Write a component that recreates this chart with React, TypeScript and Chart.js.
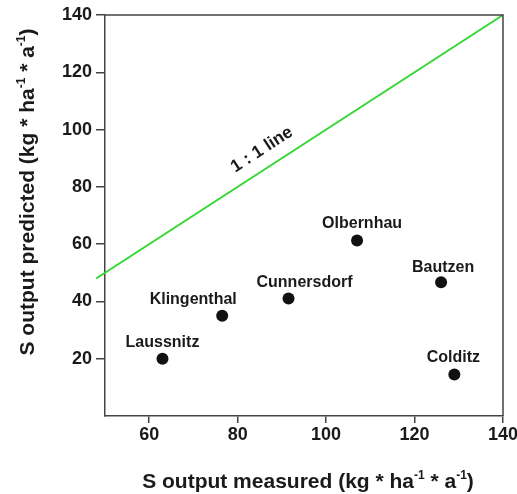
import React, { useEffect, useRef } from "react";
import { Chart, registerables } from "chart.js";

Chart.register(...registerables);

// ---- data ----
const siteNames = ["Laussnitz", "Klingenthal", "Cunnersdorf", "Olbernhau", "Bautzen", "Colditz"];
const measured = [63, 76.5, 91.5, 107, 126, 129];
const predicted = [20, 35, 41, 61.3, 46.7, 14.5];
const oneToOneX = [48, 140];
const xTickValues = [60, 80, 100, 120, 140];
const yTickValues = [20, 40, 60, 80, 100, 120, 140];
const xTitleParts = [
  { t: "S output measured (kg * ha", sup: false },
  { t: "-1", sup: true },
  { t: " * a", sup: false },
  { t: "-1", sup: true },
  { t: ")", sup: false },
];
const yTitleParts = [
  { t: "S output predicted (kg * ha", sup: false },
  { t: "-1", sup: true },
  { t: " * a", sup: false },
  { t: "-1", sup: true },
  { t: ")", sup: false },
];
const lineLabel = "1 : 1 line";

// label placement (pixel offsets relative to each point)
const labelOffsets: [number, number][] = [
  [0, -16],
  [-29, -16],
  [16, -16],
  [5, -17],
  [2, -15],
  [-1, -17],
];

const FONT = '"Liberation Sans", Arial, Helvetica, sans-serif';
const TEXT = "#1a1a1a";
const AXIS = "#444";

function drawRich(ctx: CanvasRenderingContext2D, parts: { t: string; sup: boolean }[], cx: number, cy: number, size: number, supSize: number) {
  const fMain = `bold ${size}px ${FONT}`;
  const fSup = `bold ${supSize}px ${FONT}`;
  let total = 0;
  const widths = parts.map((p) => {
    ctx.font = p.sup ? fSup : fMain;
    const w = ctx.measureText(p.t).width;
    total += w;
    return w;
  });
  let xx = cx - total / 2;
  ctx.textAlign = "left";
  ctx.textBaseline = "alphabetic";
  parts.forEach((p, i) => {
    ctx.font = p.sup ? fSup : fMain;
    ctx.fillText(p.t, xx, p.sup ? cy - size * 0.42 : cy);
    xx += widths[i];
  });
}

const annotPlugin = {
  id: "annot",
  afterDatasetsDraw(chart: any) {
    const { ctx, chartArea, scales } = chart;
    const x = scales.x;
    const y = scales.y;
    ctx.save();
    // frame top/right
    ctx.strokeStyle = AXIS;
    ctx.lineWidth = 1.5;
    ctx.beginPath();
    ctx.moveTo(chartArea.left, chartArea.top);
    ctx.lineTo(chartArea.right, chartArea.top);
    ctx.lineTo(chartArea.right, chartArea.bottom);
    ctx.stroke();

    // point labels
    ctx.fillStyle = TEXT;
    ctx.font = `bold 16px ${FONT}`;
    ctx.textAlign = "center";
    ctx.textBaseline = "middle";
    siteNames.forEach((n, i) => {
      const px = x.getPixelForValue(measured[i]);
      const py = y.getPixelForValue(predicted[i]);
      const [dx, dy] = labelOffsets[i];
      ctx.fillText(n, px + dx, py + dy);
    });

    // 1:1 line label
    const v = 87.7;
    const lx = x.getPixelForValue(v);
    const ly = y.getPixelForValue(v);
    const ang = Math.atan2(
      y.getPixelForValue(140) - y.getPixelForValue(50),
      x.getPixelForValue(140) - x.getPixelForValue(50)
    );
    ctx.save();
    ctx.translate(lx, ly);
    ctx.rotate(ang);
    ctx.font = `bold 17.5px ${FONT}`;
    ctx.textAlign = "center";
    ctx.textBaseline = "middle";
    ctx.fillText(lineLabel, 0, -18);
    ctx.restore();

    // axis titles
    drawRich(ctx, xTitleParts, 308, 488, 21, 12);
    ctx.save();
    ctx.translate(34, 192);
    ctx.rotate(-Math.PI / 2);
    drawRich(ctx, yTitleParts, 0, 0, 21, 12);
    ctx.restore();
    ctx.restore();
  },
};

export default function App() {
  const ref = useRef<HTMLCanvasElement | null>(null);
  useEffect(() => {
    if (!ref.current) return;
    const chart = new Chart(ref.current, {
      type: "scatter",
      data: {
        datasets: [
          {
            type: "line",
            data: oneToOneX.map((v) => ({ x: v, y: v })),
            borderColor: "#33d633",
            borderWidth: 2,
            pointRadius: 0,
            fill: false,
            clip: false as any,
            order: 2,
          } as any,
          {
            type: "scatter",
            data: measured.map((m, i) => ({ x: m, y: predicted[i] })),
            backgroundColor: "#111",
            borderColor: "#111",
            borderWidth: 0,
            pointRadius: 6,
            order: 1,
          },
        ],
      },
      options: {
        animation: false,
        responsive: true,
        maintainAspectRatio: false,
        layout: { padding: { top: 15, right: 14, left: 0, bottom: 0 } },
        plugins: { legend: { display: false }, tooltip: { enabled: false }, title: { display: false } },
        scales: {
          x: {
            type: "linear",
            min: 50,
            max: 140,
            afterBuildTicks: (s: any) => {
              s.ticks = xTickValues.map((v) => ({ value: v }));
            },
            afterFit: (s: any) => {
              s.height = 78;
              s.paddingLeft = 0;
              s.paddingRight = 0;
            },
            grid: { display: true, drawOnChartArea: false, drawTicks: true, tickLength: 7, color: AXIS, lineWidth: 1.5 },
            border: { display: true, color: AXIS, width: 1.5 },
            ticks: { color: TEXT, font: { family: FONT, size: 18, weight: "bold" }, padding: 1, maxRotation: 0 },
          },
          y: {
            type: "linear",
            min: 0,
            max: 140,
            afterBuildTicks: (s: any) => {
              s.ticks = yTickValues.map((v) => ({ value: v }));
            },
            afterFit: (s: any) => {
              s.width = 105;
              s.paddingTop = 0;
              s.paddingBottom = 0;
            },
            grid: { display: true, drawOnChartArea: false, drawTicks: true, tickLength: 9, color: AXIS, lineWidth: 1.5 },
            border: { display: true, color: AXIS, width: 1.5 },
            ticks: { color: TEXT, font: { family: FONT, size: 18, weight: "bold" }, padding: 4 },
          },
        },
      },
      plugins: [annotPlugin],
    } as any);
    return () => chart.destroy();
  }, []);
  return (
    <div style={{ position: "fixed", left: 0, top: 0, width: 517, height: 494, background: "#fff" }}>
      <canvas ref={ref} />
    </div>
  );
}
